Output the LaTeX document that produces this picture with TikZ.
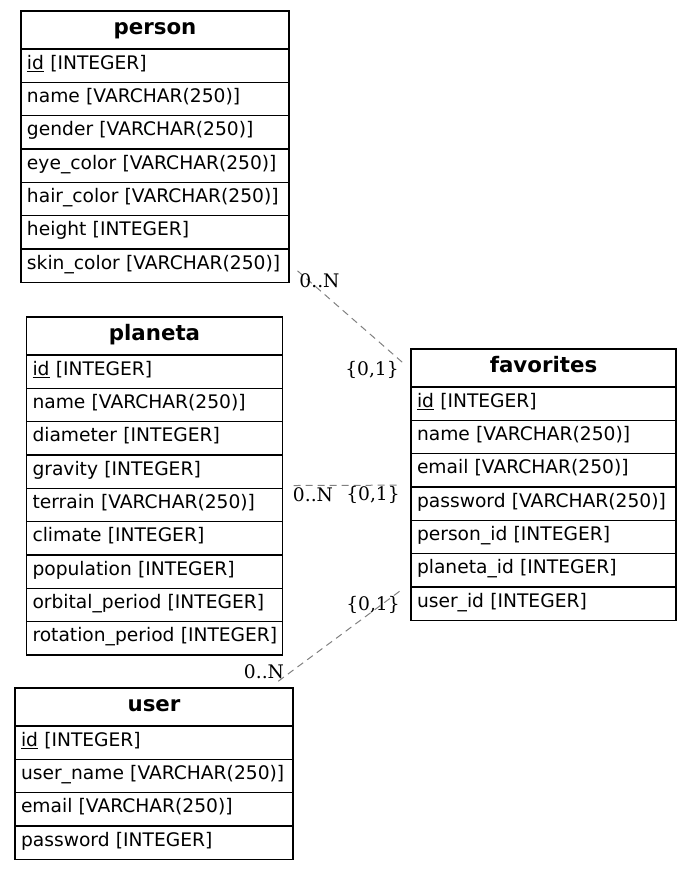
\documentclass[tikz,border=0pt]{standalone}
\usepackage{fontspec}
\setmainfont{DejaVu Sans}
\newfontfamily\cardfont{DejaVu Serif}
\usetikzlibrary{positioning,fit}
\tikzstyle{head} = [draw=black, line width=1.3pt, outer sep=0pt, minimum height=38pt, inner xsep=6pt, inner ysep=0pt, text height=13pt, text depth=5pt, font=\fontsize{21.33}{25}\selectfont\bfseries, align=center]
\tikzstyle{field} = [draw=black, line width=1.3pt, outer sep=0pt, minimum height=33.33pt, inner xsep=6pt, inner ysep=0pt, text height=12pt, text depth=5pt, font=\fontsize{18.67}{22}\selectfont, align=left]
\tikzstyle{rel} = [draw=gray, line width=1pt, dash pattern=on 7pt off 5pt, shorten <=11pt, shorten >=11pt]
\tikzstyle{card} = [font=\cardfont\fontsize{18.67}{22}\selectfont, inner sep=0pt]

\begin{document}
\begin{tikzpicture}[x=1pt, y=-1pt]
    \useasboundingbox (0,0) rectangle (692,870);
    % person
    \begin{scope}[every node/.append style={text width=256pt}]
        \node[head] (person-h) at (155,30) {person};
        \node[field, below=0pt of person-h] (person-1) {\underline{id} [INTEGER]};
        \node[field, below=0pt of person-1] (person-2) {name [VARCHAR(250)]};
        \node[field, below=0pt of person-2] (person-3) {gender [VARCHAR(250)]};
        \node[field, below=0pt of person-3] (person-4) {eye\_color [VARCHAR(250)]};
        \node[field, below=0pt of person-4] (person-5) {hair\_color [VARCHAR(250)]};
        \node[field, below=0pt of person-5] (person-6) {height [INTEGER]};
        \node[field, below=0pt of person-6] (person-7) {\mbox{skin\_color [VARCHAR(250)]}};
    \end{scope}
    % planeta
    \begin{scope}[every node/.append style={text width=244pt}]
        \node[head] (planeta-h) at (154.5,336) {planeta};
        \node[field, below=0pt of planeta-h] (planeta-1) {\underline{id} [INTEGER]};
        \node[field, below=0pt of planeta-1] (planeta-2) {name [VARCHAR(250)]};
        \node[field, below=0pt of planeta-2] (planeta-3) {diameter [INTEGER]};
        \node[field, below=0pt of planeta-3] (planeta-4) {gravity [INTEGER]};
        \node[field, below=0pt of planeta-4] (planeta-5) {terrain [VARCHAR(250)]};
        \node[field, below=0pt of planeta-5] (planeta-6) {climate [INTEGER]};
        \node[field, below=0pt of planeta-6] (planeta-7) {population [INTEGER]};
        \node[field, below=0pt of planeta-7] (planeta-8) {orbital\_period [INTEGER]};
        \node[field, below=0pt of planeta-8] (planeta-9) {\mbox{rotation\_period [INTEGER]}};
    \end{scope}
    % favorites
    \begin{scope}[every node/.append style={text width=253pt}]
        \node[head] (favorites-h) at (543.5,368) {favorites};
        \node[field, below=0pt of favorites-h] (favorites-1) {\underline{id} [INTEGER]};
        \node[field, below=0pt of favorites-1] (favorites-2) {name [VARCHAR(250)]};
        \node[field, below=0pt of favorites-2] (favorites-3) {email [VARCHAR(250)]};
        \node[field, below=0pt of favorites-3] (favorites-4) {\mbox{password [VARCHAR(250)]}};
        \node[field, below=0pt of favorites-4] (favorites-5) {person\_id [INTEGER]};
        \node[field, below=0pt of favorites-5] (favorites-6) {planeta\_id [INTEGER]};
        \node[field, below=0pt of favorites-6] (favorites-7) {user\_id [INTEGER]};
    \end{scope}
    % user
    \begin{scope}[every node/.append style={text width=266pt}]
        \node[head] (user-h) at (154,707) {user};
        \node[field, below=0pt of user-h] (user-1) {\underline{id} [INTEGER]};
        \node[field, below=0pt of user-1] (user-2) {\mbox{user\_name [VARCHAR(250)]}};
        \node[field, below=0pt of user-2] (user-3) {email [VARCHAR(250)]};
        \node[field, below=0pt of user-3] (user-4) {password [INTEGER]};
    \end{scope}
    % whole tables
    \node[fit=(person-h)(person-7), inner sep=0pt] (person) {};
    \node[fit=(planeta-h)(planeta-9), inner sep=0pt] (planeta) {};
    \node[fit=(favorites-h)(favorites-7), inner sep=0pt] (favorites) {};
    \node[fit=(user-h)(user-4), inner sep=0pt] (user) {};
    % relations
    \draw[rel] (person) -- (favorites);
    \draw[rel] (planeta) -- (favorites);
    \draw[rel] (user) -- (favorites);
    \node[card] (person-card) at (319.5,281) {0..N};
    \node[card] (favorites-card-1) at (372,370) {\{0,1\}};
    \node[card] (planeta-card) at (313,495) {0..N};
    \node[card] (favorites-card-2) at (373,495) {\{0,1\}};
    \node[card] (user-card) at (264,672) {0..N};
    \node[card] (favorites-card-3) at (373,605) {\{0,1\}};
\end{tikzpicture}
\end{document}
